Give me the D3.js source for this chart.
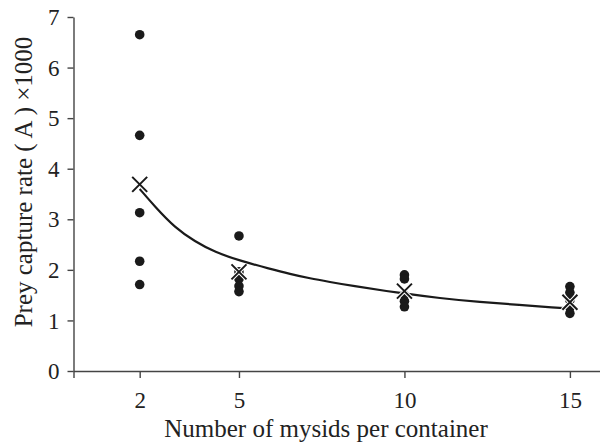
<!DOCTYPE html>
<html>
<head>
<meta charset="utf-8">
<script src="https://cdn.jsdelivr.net/npm/d3@7"></script>
<style>
  body { margin: 0; background: #fff; }
  text { font-family: "Liberation Serif", "Times New Roman", serif; fill: #222; }
</style>
</head>
<body>
<script>
// values
const xTicks = [0, 2, 5, 10, 15]
const yTicks = [0, 1, 2, 3, 4, 5, 6, 7]

// individual observations (mysids per container, capture rate x1000)
const obsN = [2, 2, 2, 2, 2,
              5, 5, 5, 5, 5,
              10, 10, 10, 10, 10,
              15, 15, 15, 15, 15]
const obsA = [6.65, 4.66, 3.13, 2.17, 1.71,
              2.67, 1.96, 1.82, 1.68, 1.57,
              1.90, 1.82, 1.50, 1.38, 1.27,
              1.67, 1.55, 1.40, 1.25, 1.14]

// group means (crosses)
const meanN = [2, 5, 10, 15]
const meanA = [3.69, 1.96, 1.58, 1.36]

// fitted curve
const fitN = [2, 2.46, 3.07, 3.67, 4.27, 5.03, 5.94, 6.54, 7.15, 7.75, 8.35, 9.87, 11.07, 12.28, 13.49, 14.55, 15]
const fitA = [3.6, 3.25, 2.83, 2.56, 2.35, 2.18, 2.02, 1.92, 1.83, 1.76, 1.69, 1.54, 1.44, 1.36, 1.31, 1.25, 1.24]

const w = 600
const h = 444

const svg = d3.select('body')
     .append('svg')
     .attr('width', w)
     .attr('height', h)

const xScale = d3.scaleLinear()
     .domain([0, 16])
     .range([73.5, 603])
const yScale = d3.scaleLinear()
     .domain([0, 7])
     .range([371, 17])

const xAxis = d3.axisBottom(xScale)
     .tickValues(xTicks)
     .tickFormat(d => d === 0 ? '' : d)
     .tickSizeInner(7)
     .tickSizeOuter(0)
     .tickPadding(13)
const yAxis = d3.axisLeft(yScale)
     .tickValues(yTicks)
     .tickFormat(d3.format('d'))
     .tickSizeInner(6)
     .tickSizeOuter(0)
     .tickPadding(8)

const gx = svg.append('g')
     .attr('id', 'x-axis')
     .attr('transform', 'translate(0,' + yScale(0) + ')')
     .call(xAxis)
const gy = svg.append('g')
     .attr('id', 'y-axis')
     .attr('transform', 'translate(' + xScale(0) + ',0)')
     .call(yAxis)

svg.selectAll('.domain, .tick line')
     .attr('stroke', '#444')
     .attr('stroke-width', 1.4)
svg.selectAll('.tick text')
     .attr('font-size', 23)
     .attr('fill', '#222')
     .style('font-family', '"Liberation Serif", serif')
gx.selectAll('.tick text').attr('dy', '0.72em')
gy.selectAll('.tick text').attr('dy', '0.33em')

// fitted line
const line = d3.line()
     .x(d => xScale(d[0]))
     .y(d => yScale(d[1]))
     .curve(d3.curveBasis)
svg.append('path')
     .datum(fitN.map((n, i) => [n, fitA[i]]))
     .attr('d', line)
     .attr('fill', 'none')
     .attr('stroke', '#1a1a1a')
     .attr('stroke-width', 2.2)

// observations
svg.selectAll('circle.obs')
     .data(obsN.map((n, i) => [n, obsA[i]]))
     .enter()
     .append('circle')
     .attr('class', 'obs')
     .attr('cx', d => xScale(d[0]))
     .attr('cy', d => yScale(d[1]))
     .attr('r', 4.8)
     .attr('fill', '#1a1a1a')

// means
const s = 7.5
const crossPath = d => {
     const cx = xScale(d[0]), cy = yScale(d[1])
     return 'M' + (cx - s) + ',' + (cy - s) + 'L' + (cx + s) + ',' + (cy + s) +
          'M' + (cx - s) + ',' + (cy + s) + 'L' + (cx + s) + ',' + (cy - s)
}
const crosses = svg.selectAll('g.mean')
     .data(meanN.map((n, i) => [n, meanA[i]]))
     .enter()
     .append('g')
     .attr('class', 'mean')
crosses.append('path')
     .attr('d', crossPath)
     .attr('stroke', '#fff')
     .attr('stroke-width', 4)
crosses.append('path')
     .attr('d', crossPath)
     .attr('stroke', '#1a1a1a')
     .attr('stroke-width', 2)

// axis titles
svg.append('text')
     .attr('x', 326)
     .attr('y', 437)
     .attr('text-anchor', 'middle')
     .attr('font-size', 25)
     .text('Number of mysids per container')
svg.append('text')
     .attr('transform', 'translate(32,182) rotate(-90)')
     .attr('text-anchor', 'middle')
     .attr('font-size', 25)
     .text('Prey capture rate (\u2009A\u2009) \u00d71000')
</script>
</body>
</html>
